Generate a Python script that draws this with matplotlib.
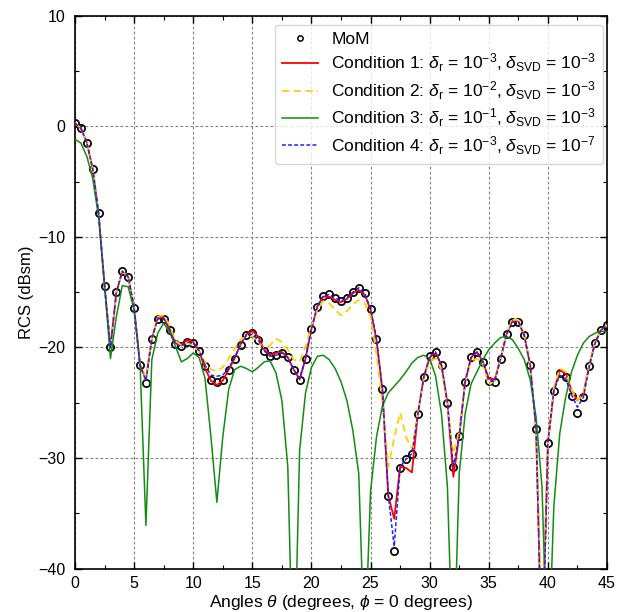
import numpy as np
import matplotlib
matplotlib.use("Agg")
import matplotlib.pyplot as plt
from matplotlib.ticker import MultipleLocator

plt.rcParams['font.family'] = ['Liberation Sans', 'DejaVu Sans']
plt.rcParams['mathtext.fontset'] = 'custom'
plt.rcParams['mathtext.rm'] = 'Liberation Sans'
plt.rcParams['mathtext.it'] = 'Liberation Sans:italic'
plt.rcParams['mathtext.bf'] = 'Liberation Sans:bold'

angles = [0.0, 0.5, 1.0, 1.5, 2.0, 2.5, 3.0, 3.5, 4.0, 4.5,
          5.0, 5.5, 6.0, 6.5, 7.0, 7.5, 8.0, 8.5, 9.0, 9.5,
          10.0, 10.5, 11.0, 11.5, 12.0, 12.5, 13.0, 13.5, 14.0, 14.5,
          15.0, 15.5, 16.0, 16.5, 17.0, 17.5, 18.0, 18.5, 19.0, 19.5,
          20.0, 20.5, 21.0, 21.5, 22.0, 22.5, 23.0, 23.5, 24.0, 24.5,
          25.0, 25.5, 26.0, 26.5, 27.0, 27.5, 28.0, 28.5, 29.0, 29.5,
          30.0, 30.5, 31.0, 31.5, 32.0, 32.5, 33.0, 33.5, 34.0, 34.5,
          35.0, 35.5, 36.0, 36.5, 37.0, 37.5, 38.0, 38.5, 39.0, 39.5,
          40.0, 40.5, 41.0, 41.5, 42.0, 42.5, 43.0, 43.5, 44.0, 44.5,
          45.0]

mom = [0.29, -0.16, -1.46, -3.85, -7.86, -14.4, -20.0, -15.0, -13.1, -13.6,
       -16.4, -21.6, -23.2, -19.2, -17.4, -17.4, -18.4, -19.7, -19.9, -19.5,
       -19.6, -20.3, -21.7, -22.9, -23.1, -22.9, -22.0, -21.0, -19.8, -18.9,
       -18.7, -19.3, -20.3, -20.8, -20.7, -20.5, -20.9, -22.0, -22.9, -21.0,
       -18.3, -16.3, -15.3, -15.2, -15.5, -15.8, -15.5, -15.0, -14.6, -15.1,
       -16.5, -19.2, -23.8, -33.4, -38.4, -30.9, -30.1, -29.6, -26.0, -22.7,
       -20.8, -20.4, -21.6, -25.0, -30.8, -28.0, -23.1, -20.9, -20.4, -21.3,
       -23.0, -23.1, -21.0, -18.8, -17.7, -17.7, -18.9, -21.6, -27.4, -50.0,
       -28.6, -23.9, -22.3, -22.7, -24.4, -25.9, -24.5, -21.7, -19.6, -18.4,
       -18.0]

cond1 = [0.29, -0.16, -1.46, -3.85, -7.86, -14.4, -20.0, -15.0, -13.1, -13.6,
         -16.4, -21.6, -22.9, -19.2, -17.3, -17.3, -18.3, -19.6, -19.8, -19.3,
         -19.5, -20.3, -21.9, -23.0, -23.4, -23.0, -22.0, -21.0, -19.7, -18.8,
         -18.5, -19.0, -20.2, -20.7, -20.5, -20.4, -20.9, -22.0, -22.9, -21.0,
         -18.3, -16.3, -15.4, -15.4, -15.7, -15.9, -15.6, -15.1, -14.8, -15.2,
         -16.6, -19.3, -23.8, -33.4, -35.5, -30.8, -30.9, -31.3, -26.0, -22.7,
         -20.9, -20.5, -21.6, -25.0, -31.7, -28.0, -23.1, -20.9, -20.4, -21.3,
         -22.8, -22.9, -21.0, -18.8, -17.6, -17.6, -18.9, -21.6, -27.4, -48.0,
         -28.6, -23.9, -22.1, -22.3, -23.9, -24.8, -24.2, -21.6, -19.5, -18.4,
         -18.0]

cond2 = [0.29, -0.16, -1.46, -3.85, -7.86, -14.4, -20.0, -15.0, -13.1, -13.6,
         -16.4, -21.4, -22.8, -19.2, -17.2, -17.1, -18.0, -19.4, -19.8, -19.6,
         -19.8, -20.4, -21.3, -22.0, -22.1, -21.8, -21.0, -20.1, -19.3, -19.0,
         -19.0, -19.5, -20.1, -19.8, -19.2, -19.5, -20.2, -21.1, -21.3, -19.9,
         -18.1, -16.6, -15.8, -16.0, -16.6, -17.1, -16.7, -16.1, -15.7, -16.0,
         -17.2, -20.6, -25.0, -30.8, -28.2, -25.9, -28.1, -29.2, -25.8, -22.9,
         -21.2, -21.0, -22.0, -25.3, -29.6, -27.6, -23.2, -21.2, -21.0, -21.5,
         -23.4, -23.0, -21.0, -18.7, -17.5, -17.5, -18.8, -21.7, -27.8, -45.0,
         -29.0, -23.6, -21.9, -22.2, -23.8, -24.8, -24.2, -21.6, -19.5, -18.4,
         -18.0]

cond3 = [-1.16, -1.5, -2.7, -4.7, -8.2, -14.3, -21.0, -17.2, -14.4, -14.5,
         -16.6, -21.4, -36.1, -21.1, -18.7, -17.8, -18.6, -19.9, -21.3, -21.0,
         -20.5, -20.9, -22.8, -28.1, -34.0, -28.1, -23.8, -22.0, -21.7, -21.9,
         -22.2, -21.8, -21.3, -21.2, -22.3, -24.8, -30.8, -52.0, -29.3, -24.1,
         -21.8, -20.8, -20.7, -21.1, -21.9, -23.1, -24.8, -27.5, -31.4, -48.0,
         -33.0, -28.1, -25.3, -24.1, -23.5, -22.9, -22.2, -21.4, -20.9, -20.7,
         -21.0, -22.6, -26.0, -32.6, -50.0, -31.4, -26.0, -23.3, -22.2, -21.1,
         -20.2, -19.6, -19.1, -19.0, -19.3, -20.1, -21.1, -22.9, -26.3, -32.6,
         -50.0, -34.4, -27.8, -24.5, -22.2, -20.7, -19.6, -19.0, -18.7, -18.5,
         -18.6]

cond4 = [0.29, -0.16, -1.46, -3.85, -7.86, -14.4, -20.0, -15.0, -13.1, -13.6,
         -16.4, -21.6, -23.0, -19.2, -17.4, -17.4, -18.4, -19.7, -19.9, -19.5,
         -19.6, -20.3, -21.6, -22.5, -22.6, -22.5, -21.9, -20.9, -19.8, -18.9,
         -18.8, -19.3, -20.3, -20.8, -20.7, -20.5, -20.9, -22.0, -22.8, -21.0,
         -18.3, -16.3, -15.3, -15.2, -15.5, -15.8, -15.5, -15.0, -14.6, -15.1,
         -16.5, -19.2, -23.8, -33.4, -38.0, -30.8, -30.1, -29.6, -26.0, -22.7,
         -20.8, -20.4, -21.6, -25.0, -30.8, -28.0, -23.1, -20.9, -20.4, -21.3,
         -23.0, -23.1, -21.0, -18.8, -17.7, -17.7, -18.9, -21.6, -27.4, -50.0,
         -28.6, -23.9, -22.5, -22.8, -24.3, -25.4, -24.5, -21.7, -19.6, -18.4,
         -18.0]

labels = [
    "MoM",
    r"Condition 1: $\delta_{\mathrm{r}}$ = 10$^{-3}$, $\delta_{\mathrm{SVD}}$ = 10$^{-3}$",
    r"Condition 2: $\delta_{\mathrm{r}}$ = 10$^{-2}$, $\delta_{\mathrm{SVD}}$ = 10$^{-3}$",
    r"Condition 3: $\delta_{\mathrm{r}}$ = 10$^{-1}$, $\delta_{\mathrm{SVD}}$ = 10$^{-3}$",
    r"Condition 4: $\delta_{\mathrm{r}}$ = 10$^{-3}$, $\delta_{\mathrm{SVD}}$ = 10$^{-7}$",
]

fig = plt.figure(figsize=(6.28, 6.12), dpi=100)
ax = fig.add_axes([0.1194, 0.071, 0.8472, 0.903])

ax.plot(angles, mom, linestyle='none', marker='o', markersize=5.2,
        markerfacecolor='none', markeredgecolor='black', markeredgewidth=1.25,
        label=labels[0], zorder=2)
ax.plot(angles, cond1, color='#ff0000', linewidth=1.3, label=labels[1], zorder=3)
ax.plot(angles, cond2, color='#ffd000', linewidth=1.3, linestyle=(0, (4, 2.5)),
        label=labels[2], zorder=3)
ax.plot(angles, cond3, color='#138c13', linewidth=1.1, label=labels[3], zorder=3)
ax.plot(angles, cond4, color='#2020ff', linewidth=1.1, linestyle=(0, (2.5, 1.5)),
        label=labels[4], zorder=4)

ax.set_xlim(0, 45)
ax.set_ylim(-40, 10)
ax.xaxis.set_major_locator(MultipleLocator(5))
ax.xaxis.set_minor_locator(MultipleLocator(2.5))
ax.yaxis.set_major_locator(MultipleLocator(10))
ax.yaxis.set_minor_locator(MultipleLocator(5))
ax.tick_params(which='both', direction='in', top=True, right=True, labelsize=11.5)
ax.tick_params(which='major', length=5, width=1)
ax.tick_params(which='minor', length=3, width=0.8)
ax.tick_params(axis='y', which='major', pad=7)
ax.tick_params(axis='x', which='major', pad=5.5)
for s in ax.spines.values():
    s.set_linewidth(1.2)
ax.grid(True, which='major', color='#808080', linestyle=(0, (2.5, 2)), linewidth=0.8)

ax.set_xlabel(r"Angles $\theta$ (degrees, $\phi$ = 0 degrees)", fontsize=12.5, labelpad=1)
ax.set_ylabel("RCS (dBsm)", fontsize=12, labelpad=3)

leg = ax.legend(loc='upper right', fontsize=12.5, frameon=True, fancybox=True,
                framealpha=0.8, edgecolor='#cccccc', handlelength=2.1,
                borderpad=0.4, labelspacing=0.28, handletextpad=0.75,
                borderaxespad=0, bbox_to_anchor=(0.9925, 0.9837))
leg.legend_handles[0].set_markersize(3.8)
leg.legend_handles[0].set_markeredgewidth(1.1)

fig.savefig("out.png", dpi=100)
